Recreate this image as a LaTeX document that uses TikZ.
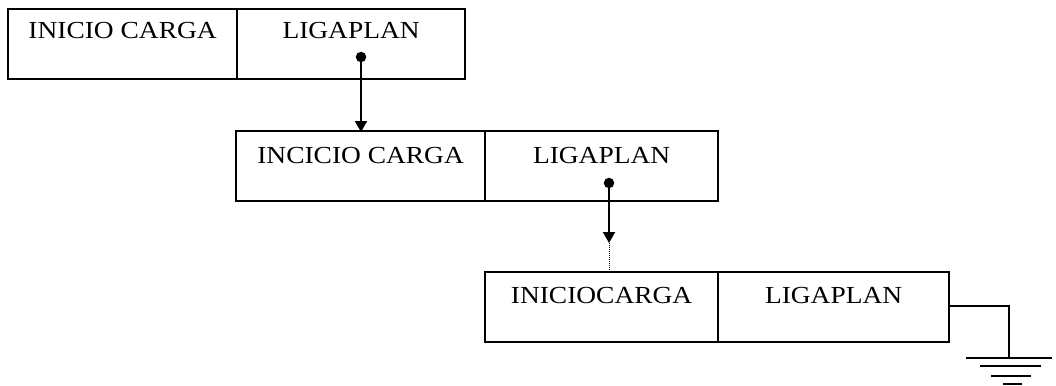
\documentclass[tikz,border=0pt]{standalone}
\usepackage{fontspec}
\setmainfont{Liberation Serif}[FakeStretch=1.12]
\usetikzlibrary{arrows.meta,calc}
\tikzset{
  cell/.style={draw, line width=2.2pt, rectangle, anchor=north west, inner sep=0pt, minimum height=70pt},
  lbl/.style={anchor=base, inner sep=0pt, font=\fontsize{24.5pt}{28pt}\selectfont},
  dotp/.style={circle, fill=black, inner sep=0pt, minimum size=10.5pt},
  link/.style={line width=2pt, -{Triangle[width=12pt,length=11pt]}},
  wire/.style={line width=2pt},
}
\begin{document}
\begin{tikzpicture}[x=1pt,y=-1pt]
\useasboundingbox (0,0) rectangle (1056,385);
% row 1
\node[cell, minimum width=229pt] (c11) at (7,8) {};
\node[cell, minimum width=228pt] (c12) at (236,8) {};
\node[lbl] (t11) at ([yshift=-31pt]c11.north) {INICIO CARGA};
\node[lbl] (t12) at ([yshift=-31pt]c12.north) {LIGAPLAN};
\node[dotp] (d1) at (361,57) {};
% row 2
\node[cell, minimum width=249pt] (c21) at (235,130) {};
\node[cell, minimum width=233pt] (c22) at (484,130) {};
\node[lbl] (t21) at ([yshift=-33pt]c21.north) {INCICIO CARGA};
\node[lbl] (t22) at ([yshift=-33pt]c22.north) {LIGAPLAN};
\node[dotp] (d2) at (609,183) {};
% row 3
\node[cell, minimum width=233pt] (c31) at (484,271) {};
\node[cell, minimum width=231pt] (c32) at (717,271) {};
\node[lbl] (t31) at ([yshift=-32pt]c31.north) {INICIOCARGA};
\node[lbl] (t32) at ([yshift=-32pt]c32.north) {LIGAPLAN};
% links
\draw[link] (d1.center) -- ([yshift=-2pt]d1.center |- c21.north);
\coordinate (a2) at (609,243);
\draw[link] (d2.center) -- (a2);
\draw[line width=1pt, densely dotted] (a2) -- (a2 |- c31.north);
% ground
\coordinate (w1) at (948,306);
\coordinate (g0) at (1009,358);
\draw[wire] (c32.east |- w1) -- (g0 |- w1) -- (g0);
\draw[wire] ($(g0)+(-43,0)$) -- ($(g0)+(43,0)$);
\draw[wire] ($(g0)+(-29,8)$) -- ($(g0)+(32,8)$);
\draw[wire] ($(g0)+(-18,18)$) -- ($(g0)+(22,18)$);
\draw[wire] ($(g0)+(-6,26)$) -- ($(g0)+(13,26)$);
\end{tikzpicture}
\end{document}
